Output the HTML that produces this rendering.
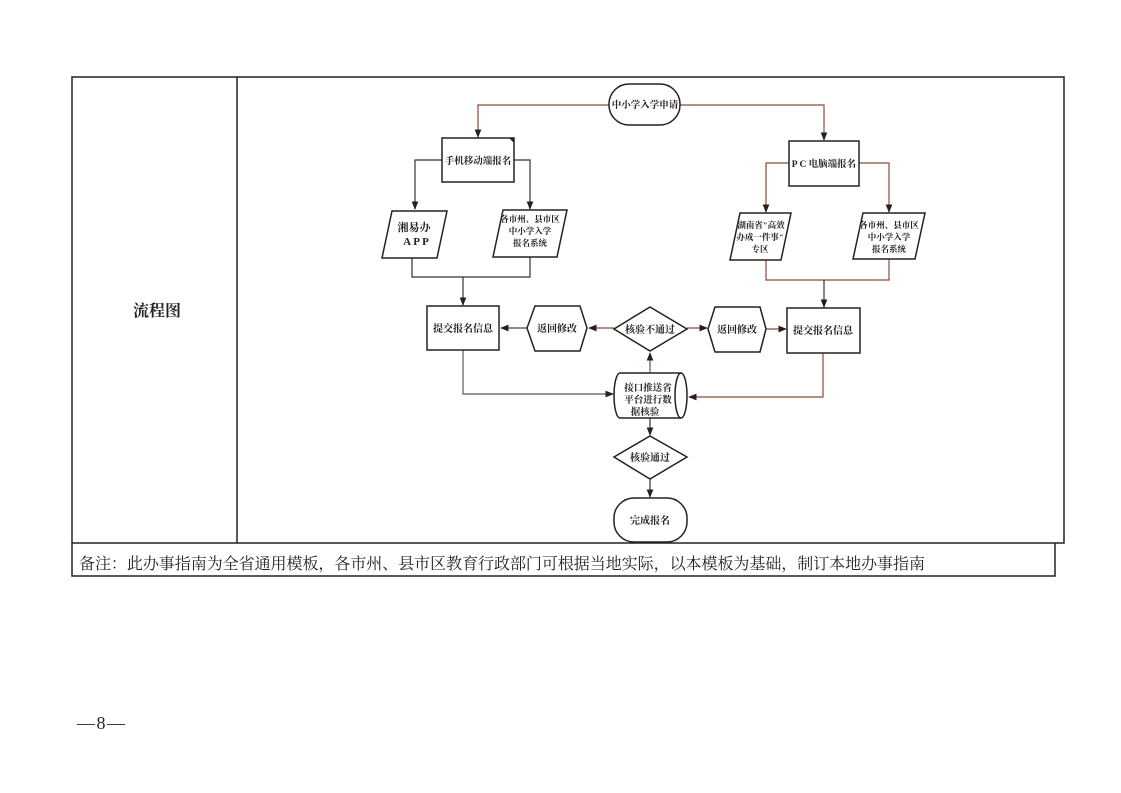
<!DOCTYPE html>
<html><head><meta charset="utf-8"><style>
html,body{margin:0;padding:0;background:#fff;width:1121px;height:793px;overflow:hidden}
svg{display:block}
text{font-family:"Liberation Serif","Noto Serif CJK SC",serif;font-weight:bold;fill:#222}
</style></head><body>
<svg width="1121" height="793" viewBox="0 0 1121 793" xmlns="http://www.w3.org/2000/svg">
<defs>
<marker id="a" viewBox="0 0 10 10" refX="9" refY="5" markerWidth="7" markerHeight="7" orient="auto-start-reverse"><path d="M0,1 L10,5 L0,9 z" fill="#222"/></marker>
</defs>
<g fill="none" stroke="#222" stroke-width="1.5">
<rect x="72" y="77" width="992" height="466"/>
<line x1="237" y1="77" x2="237" y2="543"/>
<polyline points="72,543 72,576 1055,576 1055,543"/>
</g>
<text x="157" y="316" font-size="16" text-anchor="middle" font-family="Liberation Sans,Noto Sans CJK SC,sans-serif">流程图</text>
<text x="79" y="569" font-size="16" textLength="846" style="font-weight:normal;font-family:'Liberation Serif','Noto Serif CJK SC',serif">备注：此办事指南为全省通用模板，各市州、县市区教育行政部门可根据当地实际，以本模板为基础，制订本地办事指南</text>
<text x="77" y="729" font-size="18" textLength="48" style="font-weight:normal">—8—</text>

<g fill="none" stroke-width="1.2">
<g stroke="#8b4a3a">
<polyline points="609,105 478,105 478,137" marker-end="url(#a)"/>
<polyline points="680,105 824,105 824,140" marker-end="url(#a)"/>
<polyline points="789,163 766,163 766,212" marker-end="url(#a)"/>
<polyline points="859,163 889,163 889,212" marker-end="url(#a)"/>
<polyline points="766,260 766,280 889,280 889,259"/>
<polyline points="824,280 824,307" marker-end="url(#a)" stroke="#333"/>
<line x1="614" y1="328" x2="589" y2="328" marker-end="url(#a)"/>
<line x1="687" y1="328" x2="707" y2="328" marker-end="url(#a)"/>
<line x1="766" y1="329" x2="786" y2="329" marker-end="url(#a)"/>
<polyline points="823,353 823,397 689,397" marker-end="url(#a)"/>
<line x1="650" y1="373" x2="650" y2="353" marker-end="url(#a)"/>
</g>
<g stroke="#333">
<polyline points="442,160 415,160 415,209" marker-end="url(#a)"/>
<polyline points="514,160 530,160 530,209" marker-end="url(#a)"/>
<polyline points="412,258 412,277 530,277 530,257"/>
<polyline points="463,277 463,305" marker-end="url(#a)"/>
<line x1="527" y1="328" x2="501" y2="328" marker-end="url(#a)" stroke="#445"/>
<polyline points="463,350 463,394 613,394" marker-end="url(#a)" stroke="#556"/>
<line x1="650" y1="418" x2="650" y2="435" marker-end="url(#a)"/>
<line x1="650" y1="479" x2="650" y2="497" marker-end="url(#a)"/>
</g>
</g>

<g fill="#fff" stroke="#222" stroke-width="1.5">
<rect x="609" y="84" width="71" height="41" rx="20"/>
<rect x="442" y="138" width="72" height="44"/>
<rect x="789" y="141" width="70" height="45"/>
<polygon points="392,211 447,211 437,258 382,258"/>
<polygon points="503,210 567,210 557,257 493,257"/>
<polygon points="740,213 791,213 781,260 730,260"/>
<polygon points="863,213 925,213 915,259 853,259"/>
<rect x="427" y="306" width="72" height="44"/>
<rect x="787" y="308" width="73" height="45"/>
<polygon points="535,306 580,306 587,328 580,351 535,351 527,328"/>
<polygon points="715,307 760,307 766,329 760,352 715,352 708,329"/>
<polygon points="650,307 687,329 650,351 614,329"/>
<polygon points="650,436 687,457 650,479 614,457"/>
<rect x="614" y="498" width="73" height="44" rx="20"/>
<path d="M620,373 L681,373 A6,22.5 0 0 1 681,418 L620,418 A6,22.5 0 0 1 620,373 Z"/>
<path d="M681,373 A6,22.5 0 0 0 681,418" fill="none"/>
</g>
<path d="M509,138 L514,138 L514,143 Z" fill="#222"/>

<g font-size="10" text-anchor="middle">
<text x="645" y="108" font-size="9.5">中小学入学申请</text>
<text x="478" y="164" font-size="9.5">手机移动端报名</text>
<text x="824" y="167" font-size="9.5">P C 电脑端报名</text>
<text x="414" y="231" font-size="11">湘易办</text>
<text x="416" y="245" font-size="11">A P P</text>
<text x="530" y="222" font-size="8.5">各市州、县市区</text>
<text x="530" y="234" font-size="8.5">中小学入学</text>
<text x="530" y="246" font-size="8.5">报名系统</text>
<text x="761" y="228" font-size="8.5" fill="#7a2a20">湖南省"高效</text>
<text x="760" y="240" font-size="8.5" fill="#7a2a20">办成一件事"</text>
<text x="760" y="252" font-size="8.5" fill="#7a2a20">专区</text>
<text x="889" y="228" font-size="8.5">各市州、县市区</text>
<text x="889" y="240" font-size="8.5">中小学入学</text>
<text x="889" y="252" font-size="8.5">报名系统</text>
<text x="463" y="332">提交报名信息</text>
<text x="823" y="334">提交报名信息</text>
<text x="557" y="332">返回修改</text>
<text x="737" y="333">返回修改</text>
<text x="650" y="333">核验不通过</text>
<text x="648" y="391" font-size="9.5">接口推送省</text>
<text x="648" y="403" font-size="9.5">平台进行数</text>
<text x="645" y="415" font-size="9.5">据核验</text>
<text x="650" y="461">核验通过</text>
<text x="650" y="524">完成报名</text>
</g>
</svg>
</body></html>
